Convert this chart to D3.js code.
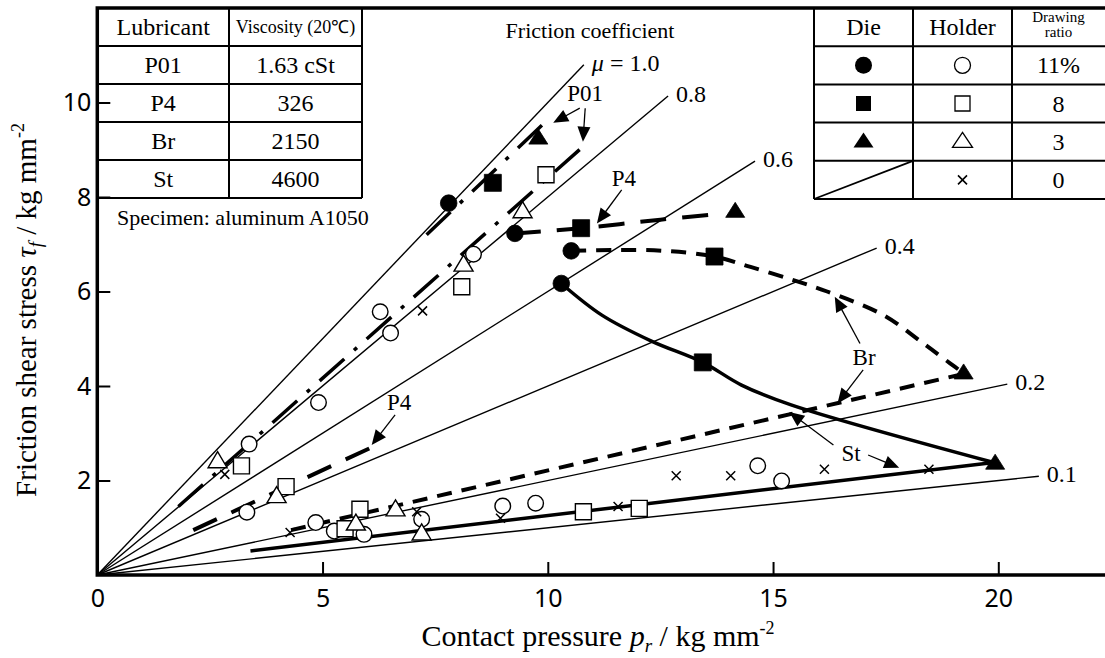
<!DOCTYPE html>
<html><head><meta charset="utf-8">
<script src="https://cdn.jsdelivr.net/npm/d3@7"></script>
<style>body{margin:0;background:#fff}svg{display:block}</style>
</head><body>
<svg id="c" width="1105" height="658"></svg>
<script>
// ---------------- data ----------------
const xTicks = [0, 5, 10, 15, 20];
const yTicks = [2, 4, 6, 8, 10];
const muValues = [1.0, 0.8, 0.6, 0.4, 0.2, 0.1];
const muEndX = [10.8, 12.67, 14.6, 17.3, 20.2, 20.9];
const muLabels = ["1.0", "0.8", "0.6", "0.4", "0.2", "0.1"];

// fitted curves (pressure, shear stress)
const lineP01Die = [[7.31, 7.2], [10.06, 9.69]];
const lineP01Holder = [[1.8, 1.45], [10.82, 9.1]];
const lineP4Die = [[9.27, 7.23], [10.74, 7.34], [12.5, 7.52], [13.9, 7.65]];
const lineP4Holder = [[2.13, 0.95], [6.2, 2.75]];
const lineBrDie = [[10.52, 6.86], [11.5, 6.88], [12.6, 6.86], [13.7, 6.74], [14.5, 6.52], [15.45, 6.24], [16.2, 6.0], [17.45, 5.5], [18.34, 4.9], [18.93, 4.48], [19.23, 4.27]];
const lineBrHolder = [[4.3, 0.95], [19.2, 4.25]];
const lineStDie = [[10.3, 6.17], [11.2, 5.5], [12.3, 4.95], [13.44, 4.5], [14.3, 4.02], [15.4, 3.6], [19.9, 2.38]];
const lineStHolder = [[3.4, 0.51], [19.9, 2.38]];

// die (filled) markers
const dieCircle = [[7.8, 7.87], [9.27, 7.23], [10.52, 6.86], [10.3, 6.17]];
const dieSquare = [[8.78, 8.3], [10.74, 7.34], [13.7, 6.74], [13.44, 4.5]];
const dieTriangle = [[9.79, 9.24], [14.16, 7.69], [19.23, 4.27], [19.93, 2.36]];
// holder (open) markers
const holderCircle = [[4.91, 3.65], [3.37, 2.77], [3.32, 1.33], [4.85, 1.11], [5.26, 0.93], [5.92, 0.86], [7.2, 1.18], [9.0, 1.46], [9.73, 1.52], [14.66, 2.31], [15.19, 1.99], [6.28, 5.57], [6.51, 5.12], [8.35, 6.79]];
const holderSquare = [[3.2, 2.31], [4.19, 1.87], [5.5, 0.98], [5.83, 1.39], [10.79, 1.34], [12.03, 1.41], [8.09, 6.1], [9.96, 8.47]];
const holderTriangle = [[2.67, 2.4], [3.98, 1.66], [5.74, 1.08], [6.62, 1.38], [7.2, 0.87], [8.13, 6.56], [9.44, 7.69]];
const holderCross = [[2.83, 2.13], [4.28, 0.9], [7.09, 1.34], [8.95, 1.2], [11.56, 1.45], [12.85, 2.1], [14.06, 2.1], [16.14, 2.24], [18.46, 2.24], [7.22, 5.59]];

// annotation labels and arrows
const labelTexts = ["P01", "P4", "P4", "Br", "St"];
const labelPos = [[10.83, 10.2], [11.69, 8.4], [6.7, 3.66], [17.02, 4.61], [16.73, 2.58]];
const arrowFrom = [[10.71, 9.88], [10.83, 9.88], [11.64, 8.15], [6.61, 3.39], [16.93, 4.9], [17.0, 4.34], [16.34, 2.75], [17.11, 2.54]];
const arrowTo = [[10.12, 9.57], [10.78, 9.17], [11.09, 7.44], [6.09, 2.75], [16.37, 5.89], [16.43, 3.63], [15.36, 3.45], [17.8, 2.27]];

// tables
const lubTable = [["Lubricant", "Viscosity (20℃)"], ["P01", "1.63 cSt"], ["P4", "326"], ["Br", "2150"], ["St", "4600"]];
const legendShapes = ["circle", "square", "triangle", "none"];
const legendRatios = ["11%", "8", "3", "0"];

// ---------------- drawing ----------------
const svg = d3.select("#c");
const SERIF = "'Liberation Serif','Times New Roman',serif";
const NUM = "'Noto Sans','DejaVu Sans',sans-serif";
const x = d3.scaleLinear().domain([0, 20]).range([97.3, 998.3]);
const y = d3.scaleLinear().domain([0, 10]).range([575, 102.5]);

// friction coefficient lines
const gMu = svg.append("g");
gMu.selectAll("line").data(muValues).join("line")
  .attr("x1", x(0)).attr("y1", y(0))
  .attr("x2", (d, i) => x(muEndX[i])).attr("y2", (d, i) => y(d * muEndX[i]))
  .attr("stroke", "#000").attr("stroke-width", 1.4);
gMu.selectAll("text").data(muValues).join("text")
  .attr("x", (d, i) => x(muEndX[i]) + 8)
  .attr("y", (d, i) => y(d * muEndX[i]) + 6)
  .attr("font-family", SERIF).attr("font-size", 24)
  .each(function (d, i) {
    const t = d3.select(this);
    if (i === 0) {
      t.append("tspan").attr("font-style", "italic").text("μ");
      t.append("tspan").text(" = " + muLabels[i]);
    } else t.text(muLabels[i]);
  });

svg.append("text").attr("x", 590).attr("y", 38).attr("text-anchor", "middle")
  .attr("font-family", SERIF).attr("font-size", 22).text("Friction coefficient");

// curves
const lineGen = d3.line().x(d => x(d[0])).y(d => y(d[1]));
const curveGen = d3.line().x(d => x(d[0])).y(d => y(d[1])).curve(d3.curveCatmullRom.alpha(0.5));
const gC = svg.append("g").attr("fill", "none").attr("stroke", "#000");
const styles = {
  p01: {w: 3.5, dash: "33,13,4,13"},
  p4: {w: 4, dash: "26,16"},
  br: {w: 4, dash: "15,10"},
  st: {w: 3.5, dash: null}
};
function drawCurve(data, st, gen) {
  gC.append("path").attr("d", gen(data)).attr("stroke-width", st.w)
    .attr("stroke-dasharray", st.dash);
}
drawCurve(lineP01Die, styles.p01, lineGen);
drawCurve(lineP01Holder, styles.p01, lineGen);
drawCurve(lineP4Die, styles.p4, curveGen);
drawCurve(lineP4Holder, styles.p4, lineGen);
drawCurve(lineBrDie, styles.br, curveGen);
drawCurve(lineBrHolder, styles.br, lineGen);
drawCurve(lineStDie, styles.st, curveGen);
drawCurve(lineStHolder, styles.st, lineGen);

// markers
function shapePath(kind, cx, cy, s) {
  if (kind === "circle") {
    const r = s.r;
    return `M${cx - r},${cy}a${r},${r} 0 1,0 ${2 * r},0a${r},${r} 0 1,0 ${-2 * r},0Z`;
  }
  if (kind === "square") {
    const h = s.sq / 2;
    return `M${cx - h},${cy - h}h${2 * h}v${2 * h}h${-2 * h}Z`;
  }
  if (kind === "triangle") {
    const w = s.tw / 2, th = s.th;
    return `M${cx},${cy - th * 0.62}L${cx + w},${cy + th * 0.38}L${cx - w},${cy + th * 0.38}Z`;
  }
  return "";
}
const filledSize = {r: 8.3, sq: 17, tw: 19, th: 15};
const openSize = {r: 7.8, sq: 16, tw: 19, th: 16};
const gM = svg.append("g");
function drawMarkers(data, kind, filled) {
  gM.append("g").selectAll("path").data(data).join("path")
    .attr("d", d => shapePath(kind, x(d[0]), y(d[1]), filled ? filledSize : openSize))
    .attr("fill", filled ? "#000" : "#fff")
    .attr("stroke", "#000").attr("stroke-width", filled ? 0.8 : 1.4);
}
drawMarkers(holderCircle, "circle", false);
drawMarkers(holderSquare, "square", false);
drawMarkers(holderTriangle, "triangle", false);
gM.append("g").selectAll("path").data(holderCross).join("path")
  .attr("d", d => { const cx = x(d[0]), cy = y(d[1]), h = 4.5; return `M${cx - h},${cy - h}L${cx + h},${cy + h}M${cx - h},${cy + h}L${cx + h},${cy - h}`; })
  .attr("stroke", "#000").attr("stroke-width", 1.5).attr("fill", "none");
drawMarkers(dieCircle, "circle", true);
drawMarkers(dieSquare, "square", true);
drawMarkers(dieTriangle, "triangle", true);

// annotations
const gA = svg.append("g");
gA.selectAll("text").data(labelTexts).join("text")
  .attr("x", (d, i) => x(labelPos[i][0])).attr("y", (d, i) => y(labelPos[i][1]) + 8)
  .attr("text-anchor", "middle").attr("font-family", SERIF).attr("font-size", 23)
  .text(d => d);
arrowFrom.forEach((f, i) => {
  const x1 = x(f[0]), y1 = y(f[1]), x2 = x(arrowTo[i][0]), y2 = y(arrowTo[i][1]);
  const dx = x2 - x1, dy = y2 - y1, L = Math.hypot(dx, dy), ux = dx / L, uy = dy / L;
  const hl = 15, hw = 6.5;
  const bx = x2 - ux * hl, by = y2 - uy * hl;
  gA.append("line").attr("x1", x1).attr("y1", y1).attr("x2", bx + ux * 2).attr("y2", by + uy * 2)
    .attr("stroke", "#000").attr("stroke-width", 1.3);
  gA.append("path").attr("d", `M${x2},${y2}L${bx - uy * hw},${by + ux * hw}L${bx + uy * hw},${by - ux * hw}Z`)
    .attr("fill", "#000");
});

// axes
const ax = svg.append("g").attr("transform", `translate(0,${y(0)})`)
  .call(d3.axisBottom(x).tickValues(xTicks).tickSizeInner(-13).tickSizeOuter(0).tickPadding(14));
ax.select(".domain").remove();
ax.selectAll("line").attr("stroke-width", 2);
ax.selectAll("text").attr("font-family", NUM).attr("font-size", 25).attr("fill", "#000");
const ay = svg.append("g").attr("transform", `translate(${x(0)},0)`)
  .call(d3.axisLeft(y).tickValues(yTicks).tickSizeInner(-13).tickSizeOuter(0).tickPadding(6));
ay.select(".domain").remove();
ay.selectAll("line").attr("stroke-width", 2);
ay.selectAll("text").attr("font-family", NUM).attr("font-size", 25).attr("fill", "#000");

// frame
const yTop = y(12);
svg.append("path").attr("d", `M1105,${yTop}H${x(0)}V${y(0)}H1105`)
  .attr("fill", "none").attr("stroke", "#000").attr("stroke-width", 3.5);

// lubricant table
const lt = svg.append("g");
const ltX = [x(0), 229, 362];
const rowH = (198 - yTop) / 5;
lt.append("g").selectAll("line").data(d3.range(1, 6)).join("line")
  .attr("x1", ltX[0]).attr("x2", ltX[2]).attr("y1", i => yTop + i * rowH).attr("y2", i => yTop + i * rowH)
  .attr("stroke", "#000").attr("stroke-width", 2);
lt.append("line").attr("x1", ltX[1]).attr("x2", ltX[1]).attr("y1", yTop).attr("y2", 198).attr("stroke", "#000").attr("stroke-width", 2);
lt.append("line").attr("x1", ltX[2]).attr("x2", ltX[2]).attr("y1", yTop).attr("y2", 198).attr("stroke", "#000").attr("stroke-width", 2);
lubTable.forEach((row, r) => {
  row.forEach((cell, c) => {
    const fs = (r === 0 && c === 1) ? 18 : 24;
    lt.append("text").attr("x", (ltX[c] + ltX[c + 1]) / 2).attr("y", yTop + r * rowH + rowH / 2 + fs * 0.33)
      .attr("text-anchor", "middle").attr("font-family", SERIF).attr("font-size", fs).text(cell);
  });
});
svg.append("text").attr("x", 117).attr("y", 225).attr("font-family", SERIF).attr("font-size", 22)
  .text("Specimen: aluminum A1050");

// legend table
const lg = svg.append("g");
const lgX = [814, 913, 1012, 1110];
const lgBottom = 199;
const lgRowH = (lgBottom - yTop) / 5;
lg.append("g").selectAll("line").data(d3.range(1, 6)).join("line")
  .attr("x1", lgX[0]).attr("x2", 1105).attr("y1", i => yTop + i * lgRowH).attr("y2", i => yTop + i * lgRowH)
  .attr("stroke", "#000").attr("stroke-width", 2);
[lgX[0], lgX[1], lgX[2]].forEach(xx => lg.append("line").attr("x1", xx).attr("x2", xx).attr("y1", yTop).attr("y2", lgBottom).attr("stroke", "#000").attr("stroke-width", 2));
const cxs = lgX.slice(0, 3).map((v, i) => (v + lgX[i + 1]) / 2);
cxs[2] = (lgX[2] + 1105) / 2;
lg.append("text").attr("x", cxs[0]).attr("y", yTop + lgRowH / 2 + 8).attr("text-anchor", "middle").attr("font-family", SERIF).attr("font-size", 24).text("Die");
lg.append("text").attr("x", cxs[1]).attr("y", yTop + lgRowH / 2 + 8).attr("text-anchor", "middle").attr("font-family", SERIF).attr("font-size", 24).text("Holder");
lg.append("text").attr("x", cxs[2]).attr("y", yTop + 14).attr("text-anchor", "middle").attr("font-family", SERIF).attr("font-size", 15).text("Drawing");
lg.append("text").attr("x", cxs[2]).attr("y", yTop + 29).attr("text-anchor", "middle").attr("font-family", SERIF).attr("font-size", 15).text("ratio");
const legFilled = {r: 8.5, sq: 15, tw: 20, th: 15};
const legOpen = {r: 8, sq: 15, tw: 20, th: 15};
legendShapes.forEach((k, i) => {
  const cy = yTop + (i + 1) * lgRowH + lgRowH / 2;
  if (k !== "none") {
    lg.append("path").attr("d", shapePath(k, cxs[0], cy, legFilled)).attr("fill", "#000");
    lg.append("path").attr("d", shapePath(k, cxs[1], cy, legOpen)).attr("fill", "#fff").attr("stroke", "#000").attr("stroke-width", 1.3);
  } else {
    lg.append("line").attr("x1", lgX[0]).attr("y1", lgBottom).attr("x2", lgX[1]).attr("y2", yTop + 4 * lgRowH)
      .attr("stroke", "#000").attr("stroke-width", 1.8);
    const h = 4.5;
    lg.append("path").attr("d", `M${cxs[1] - h},${cy - h}L${cxs[1] + h},${cy + h}M${cxs[1] - h},${cy + h}L${cxs[1] + h},${cy - h}`)
      .attr("stroke", "#000").attr("stroke-width", 1.6);
  }
  lg.append("text").attr("x", cxs[2]).attr("y", cy + 8).attr("text-anchor", "middle").attr("font-family", SERIF).attr("font-size", 24).text(legendRatios[i]);
});

// axis titles
const xt = svg.append("text").attr("x", 598).attr("y", 646).attr("text-anchor", "middle")
  .attr("font-family", SERIF).attr("font-size", 30);
xt.append("tspan").text("Contact pressure ");
xt.append("tspan").attr("font-style", "italic").text("p");
xt.append("tspan").attr("font-style", "italic").attr("font-size", 19).attr("dy", 6).text("r");
xt.append("tspan").attr("dy", -6).text(" / kg mm");
xt.append("tspan").attr("font-size", 18).attr("dy", -12).text("-2");

const yt = svg.append("text").attr("transform", "translate(36,310) rotate(-90)").attr("text-anchor", "middle")
  .attr("font-family", SERIF).attr("font-size", 29);
yt.append("tspan").text("Friction shear stress ");
yt.append("tspan").attr("font-style", "italic").text("τ");
yt.append("tspan").attr("font-style", "italic").attr("font-size", 19).attr("dy", 6).text("f");
yt.append("tspan").attr("dy", -6).text(" / kg mm");
yt.append("tspan").attr("font-size", 18).attr("dy", -12).text("-2");
</script>
</body></html>
